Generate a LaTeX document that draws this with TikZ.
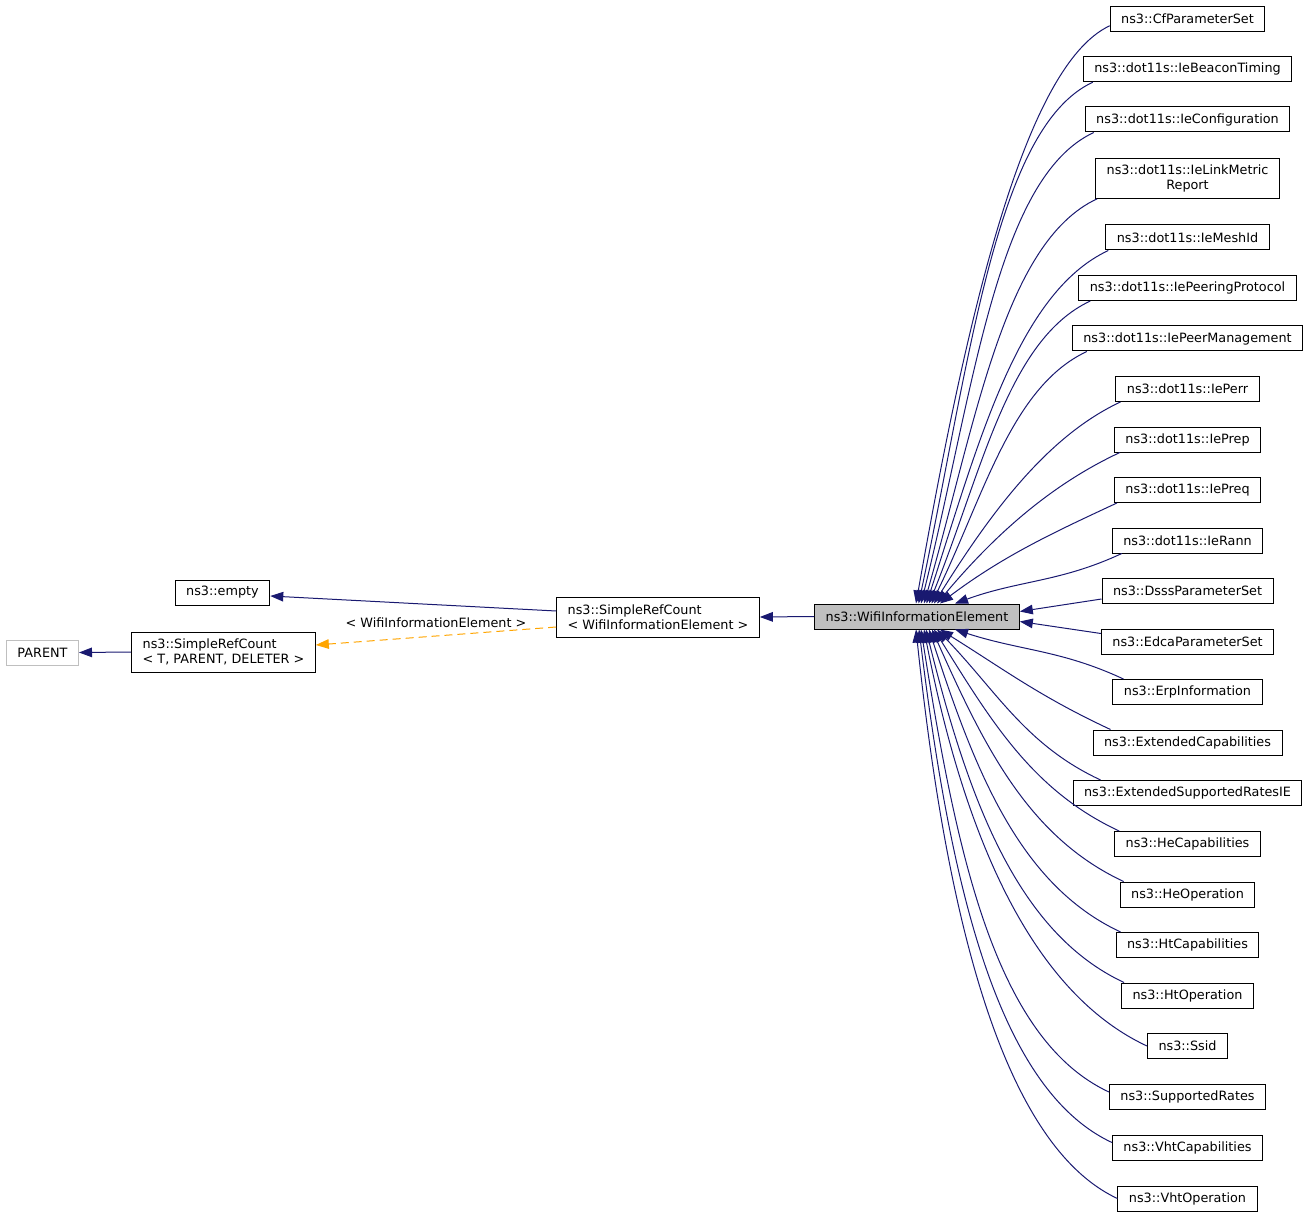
\documentclass[tikz,border=0pt]{standalone}
\usepackage{fontspec}
\setmainfont{DejaVu Sans}
\usetikzlibrary{arrows.meta,calc}
\definecolor{navy}{HTML}{191970}
\definecolor{orng}{HTML}{FFA500}
\definecolor{curgray}{HTML}{BFBFBF}
\begin{document}
\begin{tikzpicture}[x=0.75pt,y=0.75pt,
  font=\fontsize{9.6pt}{11.25pt}\selectfont,
  box/.style={draw=black, line width=0.75pt, fill=white, inner xsep=8.25pt, inner ysep=0pt, minimum height=18.75pt},
  boxtwo/.style={box, minimum height=30pt, align=left},
  edge/.style={draw=navy, line width=0.75pt, -{Triangle[length=9.75pt,width=7.2pt]}},
  dedge/.style={draw=orng, line width=0.75pt, dash pattern=on 6pt off 3.75pt, -{Triangle[length=9.75pt,width=7.2pt]}},
]
\useasboundingbox (0,0) rectangle (1309,-1219);

% left part
\node[box, draw=curgray] (parent) at (42.5,-652.5) {PARENT};
\node[boxtwo] (srct) at (223.5,-652) {ns3::SimpleRefCount\\< T, PARENT, DELETER >};
\node[box] (empty) at (222.5,-592.5) {ns3::empty};
\node[boxtwo] (srcw) at (658,-617) {ns3::SimpleRefCount\\< WifiInformationElement >};
\node[box, fill=curgray] (wie) at (917,-616.5) {ns3::WifiInformationElement};

% right column
\node[box] (cf)    at (1187.5,-18.8)  {ns3::CfParameterSet};
\node[box] (bt)    at (1187.5,-69.2)  {ns3::dot11s::IeBeaconTiming};
\node[box] (cfg)   at (1187.5,-119.5) {ns3::dot11s::IeConfiguration};
\node[boxtwo, align=center] (lm) at (1187.5,-178.3) {ns3::dot11s::IeLinkMetric\\Report};
\node[box] (mid)   at (1187.5,-237.5) {ns3::dot11s::IeMeshId};
\node[box] (pp)    at (1187.5,-288)   {ns3::dot11s::IePeeringProtocol};
\node[box] (pm)    at (1187.5,-338.5) {ns3::dot11s::IePeerManagement};
\node[box] (perr)  at (1187.5,-389)   {ns3::dot11s::IePerr};
\node[box] (prep)  at (1187.5,-439.5) {ns3::dot11s::IePrep};
\node[box] (preq)  at (1187.5,-490)   {ns3::dot11s::IePreq};
\node[box] (rann)  at (1187.5,-540.5) {ns3::dot11s::IeRann};
\node[box] (dsss)  at (1187.5,-591)   {ns3::DsssParameterSet};
\node[box] (edca)  at (1187.5,-641.5) {ns3::EdcaParameterSet};
\node[box] (erp)   at (1187.5,-692)   {ns3::ErpInformation};
\node[box] (ecap)  at (1187.5,-742.5) {ns3::ExtendedCapabilities};
\node[box] (esr)   at (1187.5,-793)   {ns3::ExtendedSupportedRatesIE};
\node[box] (hecap) at (1187.5,-844)   {ns3::HeCapabilities};
\node[box] (heop)  at (1187.5,-894.5) {ns3::HeOperation};
\node[box] (htcap) at (1187.5,-945)   {ns3::HtCapabilities};
\node[box] (htop)  at (1187.5,-995.5) {ns3::HtOperation};
\node[box] (ssid)  at (1187.5,-1046)  {ns3::Ssid};
\node[box] (sr)    at (1187.5,-1097)  {ns3::SupportedRates};
\node[box] (vcap)  at (1187.5,-1147.5){ns3::VhtCapabilities};
\node[box] (vop)   at (1187.5,-1198.5){ns3::VhtOperation};

% left edges
\draw[edge] ($(srcw.west)+(0,6)$) -- ($(empty.east)+(0,-3.5)$);
\draw[edge] (srct.west) -- (parent.east);
\draw[dedge] ($(srcw.west)+(0,-10)$) -- node[above=2.5pt, pos=0.5, text=black] (lbl) {< WifiInformationElement >} ($(srct.east)+(0,7)$);
\draw[edge] (wie.west) -- (srcw.east);

% top children
\foreach \n/\a/\dx/\dy/\ia/\ol/\il/\xe in {
  cf/south west/0/6/80/0.4/1.2/916,
  bt/south west/10/0/78/0.5/1.15/918.6,
  cfg/south west/9/0/76/0.55/1.12/921,
  lm/south west/2/0/74/0.6/1.1/924,
  mid/south west/3/0/72/0.65/1.07/926.5,
  pp/south west/12/0/68/0.68/1.05/929,
  pm/south west/15/0/64/0.72/1.03/931.5,
  perr/south west/5/0/58/0.75/1/934,
  prep/south west/6/0/50/0.8/1/937,
  preq/south west/3/0/37/0.87/1/940,
  rann/south west/10/0/20/1/1/955}
  \draw[edge] ($(\n.\a)+(\dx,\dy)$) to[out=205, in=\ia, out looseness=\ol, in looseness=\il] ($(wie.north)+({\xe-917},0)$);

% middle children
\draw[edge] ($(dsss.west)+(0,-8)$) -- ($(wie.east)+(0,5)$);
\draw[edge] ($(edca.west)+(0,8)$) -- ($(wie.east)+(0,-5)$);

% bottom children
\foreach \n/\a/\dx/\dy/\ia/\ol/\il/\xe in {
  erp/north west/11/0/-18/1/1/955,
  ecap/north west/18/0/-32/1/1/940,
  esr/north west/28/0/-46/0.95/1/937,
  hecap/north west/5/0/-58/0.9/1/934,
  heop/north west/4/0/-66/0.85/1.03/932,
  htcap/north west/5/0/-72/0.8/1.06/929,
  htop/north west/3/0/-76/0.75/1.1/926,
  ssid/west/0/0/-79/0.7/1.12/924,
  sr/west/0/5/-81/0.65/1.15/921,
  vcap/west/0/5/-83/0.6/1.17/919,
  vop/west/0/0/-84/0.55/1.19/916}
  \draw[edge] ($(\n.\a)+(\dx,\dy)$) to[out=155, in=\ia, out looseness=\ol, in looseness=\il] ($(wie.south)+({\xe-917},0)$);
\end{tikzpicture}
\end{document}
